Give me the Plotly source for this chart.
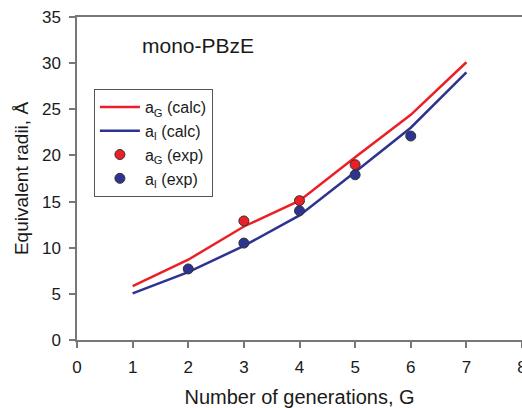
import plotly.graph_objects as go

gen_calc = [1, 2, 3, 4, 5, 6, 7]
aG_calc = [5.85, 8.7, 12.3, 15.1, 19.8, 24.4, 30.1]
aI_calc = [5.05, 7.35, 10.2, 13.5, 18.2, 23.0, 29.0]

gen_expG = [3, 4, 5]
aG_exp = [12.9, 15.1, 19.0]
gen_expI = [2, 3, 4, 5, 6]
aI_exp = [7.7, 10.5, 14.0, 17.9, 22.1]

x_ticks = [0, 1, 2, 3, 4, 5, 6, 7, 8]
y_ticks = [0, 5, 10, 15, 20, 25, 30, 35]

RED = "#ec1f26"
BLUE = "#2d3390"
FONT = "Liberation Sans, Arial, sans-serif"
TXT = "#1a1a1a"

fig = go.Figure()
fig.add_trace(go.Scatter(x=gen_calc, y=aG_calc, mode="lines", name="a<sub>G</sub> (calc)",
                         line=dict(color=RED, width=2.5)))
fig.add_trace(go.Scatter(x=gen_calc, y=aI_calc, mode="lines", name="a<sub>I</sub> (calc)",
                         line=dict(color=BLUE, width=2.5)))
fig.add_trace(go.Scatter(x=gen_expG, y=aG_exp, mode="markers", name="a<sub>G</sub> (exp)",
                         marker=dict(color=RED, size=10, line=dict(color="#333333", width=1))))
fig.add_trace(go.Scatter(x=gen_expI, y=aI_exp, mode="markers", name="a<sub>I</sub> (exp)",
                         marker=dict(color=BLUE, size=10, line=dict(color="#333333", width=1))))

axis_common = dict(showline=True, linecolor="#777777", linewidth=1.5, mirror=True,
                   ticks="outside", ticklen=6, tickcolor="#777777", tickwidth=1.5,
                   showgrid=False, zeroline=False, ticklabeloverflow="allow",
                   automargin=False,
                   tickfont=dict(family=FONT, size=17, color=TXT))

fig.update_xaxes(range=[0, 8], tickvals=x_ticks, ticktext=[str(v) for v in x_ticks],
                 ticklabelstandoff=5,
                 title=dict(text="Number of generations, G", font=dict(family=FONT, size=20, color=TXT),
                            standoff=14),
                 **axis_common)
fig.update_yaxes(range=[0, 35], tickvals=y_ticks, ticktext=[str(v) for v in y_ticks],
                 ticklabelstandoff=5,
                 title=dict(text="Equivalent radii, Å", font=dict(family=FONT, size=19, color=TXT),
                            standoff=8),
                 **axis_common)

fig.add_annotation(text="mono-PBzE", x=0.142, y=0.913, xref="paper", yref="paper",
                   xanchor="left", yanchor="middle", showarrow=False,
                   font=dict(family=FONT, size=21, color=TXT))

fig.update_layout(
    width=522, height=408,
    margin=dict(l=77, r=0, t=17, b=68),
    paper_bgcolor="white", plot_bgcolor="white",
    font=dict(family=FONT, color=TXT),
    legend=dict(x=0.038, y=0.777, xanchor="left", yanchor="top",
                bordercolor="#555555", borderwidth=1, bgcolor="white",
                font=dict(family=FONT, size=16, color=TXT),
                itemwidth=40),
    showlegend=True,
)

fig.write_html("out.html")
